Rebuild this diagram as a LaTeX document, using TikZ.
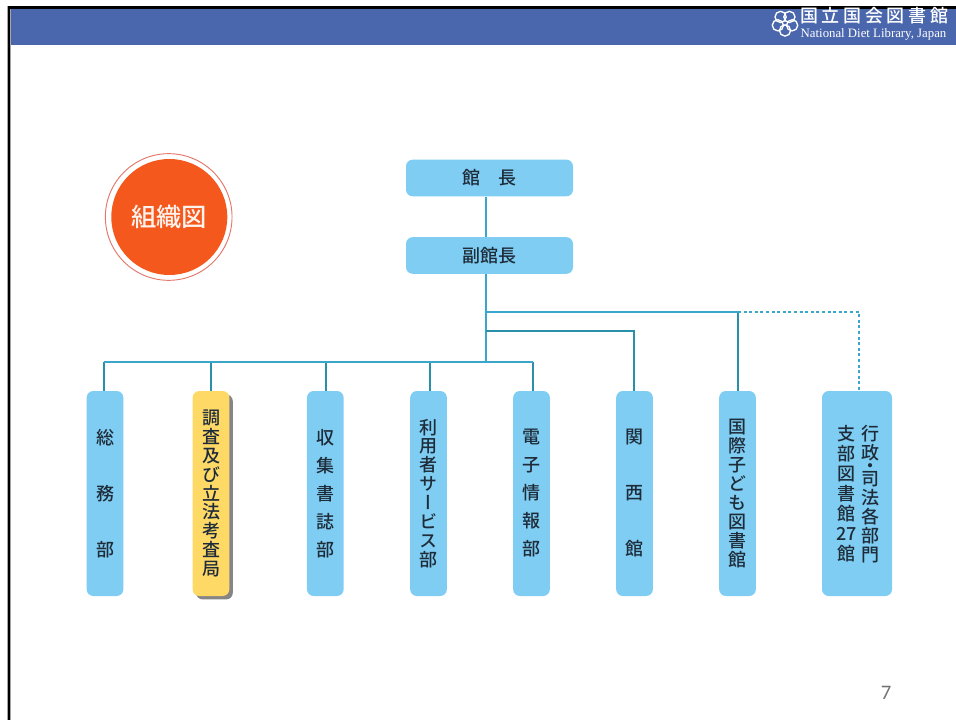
\documentclass[tikz,border=0pt]{standalone}
\usepackage{fontspec}
\usetikzlibrary{shadows}
\newfontfamily\cjk[RawFeature=+vert]{Noto Sans CJK JP Medium}
\newfontfamily\cjkh{Noto Sans CJK JP Medium}
\newfontfamily\lserif{Liberation Serif}
\newfontfamily\lsans{Carlito}
\definecolor{hdr}{HTML}{4A67AD}
\definecolor{boxblue}{HTML}{7FCDF2}
\definecolor{boxyel}{HTML}{FFD966}
\definecolor{conn}{HTML}{3AA6CC}
\definecolor{drop}{HTML}{2A8FA8}
\definecolor{ink}{HTML}{1E2C3A}
\definecolor{orng}{HTML}{F4581C}
\definecolor{ring}{HTML}{E4766A}
\newcommand{\tightrows}{\lineskiplimit=-100pt\relax}
\tikzset{
  x=0.75pt, y=-0.75pt,
  orgbox/.style={fill=boxblue, rounded corners=5pt, inner sep=0pt, text=ink, align=center},
  topbox/.style={orgbox, minimum width=125.25pt, minimum height=27.5pt, font=\cjkh\fontsize{13.5}{15}\selectfont},
  colbox/.style={orgbox, minimum width=27.5pt, minimum height=153.75pt},
  vchars/.style={font={\cjk\fontsize{13.5}{#1}\selectfont\tightrows}},
  link/.style={draw=conn, line width=1.2pt},
  droplink/.style={draw=drop, line width=1.2pt},
  dotlink/.style={draw=conn, line width=1.2pt, dash pattern=on 2.2pt off 2pt},
  petal/.style={draw=white, line width=1pt},
}
\begin{document}
\begin{tikzpicture}
\useasboundingbox (0,0) rectangle (956,720);
% frame and header
\fill[hdr] (10,8) rectangle (956,45);
\fill[black!35] (7.3,6) rectangle (10.7,720);
\fill[black] (8,6) rectangle (10,720);
\fill[black] (8,6) rectangle (956,9);
% logo
\foreach \a in {90,162,234,306,378} \draw[petal] (785,23)+({\a}:7.5) circle (5.6);
\draw[petal,line width=0.5pt] (785,23) circle (2.6);
\node[inner sep=0pt, text=white, font=\cjkh\fontsize{13.5}{14}\selectfont] (logoj) at (874,16) {国\hspace{2.75pt}立\hspace{2.75pt}国\hspace{2.75pt}会\hspace{2.75pt}図\hspace{2.75pt}書\hspace{2.75pt}館};
\node[inner sep=0pt, text=white, font=\lserif\fontsize{9.6}{10}\selectfont] (logoe) at (873.5,34) {National Diet Library, Japan};
% title badge
\node[circle, draw=ring, fill=white, line width=0.7pt, minimum size=95pt, inner sep=0pt] (ringc) at (168.7,217) {};
\node[circle, fill=orng, minimum size=87pt, inner sep=0pt, text=white!92!orng, font=\cjkh\fontsize{19}{20}\selectfont] (title) at (169.3,217) {組織図};
% top boxes
\node[topbox] (kancho) at (489.5,178) {館\hspace{1em}長};
\node[topbox] (fuku) at (489.5,255.5) {副館長};
% junctions
\coordinate (j1) at (486,362);
\coordinate (j2) at (486,331);
\coordinate (j3) at (486,312);
% column boxes
\node[colbox, vchars=42] (somu) at (105,493.5) {総\\務\\部};
\node[colbox, fill=boxyel, vchars=14.1, drop shadow={shadow xshift=2.6pt, shadow yshift=-2.6pt, fill=black!48, opacity=1}] (chosa) at (211,493.5) {調\\査\\及\\び\\立\\法\\考\\査\\局};
\node[colbox, vchars=21] (shushu) at (325.3,493.5) {収\\集\\書\\誌\\部};
\node[colbox, vchars=14.2] (riyo) at (428.5,493.5) {利\\用\\者\\サ\\ー\\ビ\\ス\\部};
\node[colbox, vchars=21] (denshi) at (531.5,493.5) {電\\子\\情\\報\\部};
\node[colbox, vchars=42] (kansai) at (634.5,493.5) {関\\西\\館};
\node[colbox, vchars=14.2] (kokusai) at (737.5,493.5) {国\\際\\子\\ど\\も\\図\\書\\館};
\node[colbox, minimum width=52.5pt] (gyosei) at (857,493.5) {};
\node[inner sep=0pt, align=center, text=ink, vchars=15] (gyoseiL) at (846.5,494) {支\\部\\図\\書\\館\\{\cjkh 27}\\館};
\node[inner sep=0pt, align=center, text=ink, vchars=14.2] (gyoseiR) at (870,494) {行\\政\\[-4.4pt]・\\[-4.4pt]司\\法\\各\\部\\門};
% connectors
\draw[link] (kancho.south -| j1) -- (fuku.north -| j1);
\draw[link] (fuku.south -| j1) -- (j1);
\draw[droplink] ([xshift=-0.75pt]somu.north) -- ([xshift=-0.75pt]somu.north |- j1);
\draw[droplink] (chosa.north) -- (chosa.north |- j1);
\draw[droplink] ([xshift=0.4pt]shushu.north) -- ([xshift=0.4pt]shushu.north |- j1);
\draw[droplink] ([xshift=1.125pt]riyo.north) -- ([xshift=1.125pt]riyo.north |- j1);
\draw[droplink] ([xshift=1.3pt]denshi.north) -- ([xshift=1.3pt]denshi.north |- j1);
\draw[link] ([xshift=-0.75pt]somu.north |- j1) -- ([xshift=1.3pt]denshi.north |- j1);
\draw[droplink] ([xshift=-0.375pt]kansai.north) |- (j2);
\draw[droplink] ([xshift=0.375pt]kokusai.north) -- ([xshift=0.375pt]kokusai.north |- j3);
\draw[link] (j3) -- ([xshift=0.375pt]kokusai.north |- j3);
\draw[dotlink] ([xshift=0.375pt]kokusai.north |- j3) -| ([xshift=1.5pt]gyosei.north);
% page number
\node[inner sep=0pt, text=black!55, font=\lsans\fontsize{15.5}{18}\selectfont] (pageno) at (886,693) {7};
\end{tikzpicture}
\end{document}
